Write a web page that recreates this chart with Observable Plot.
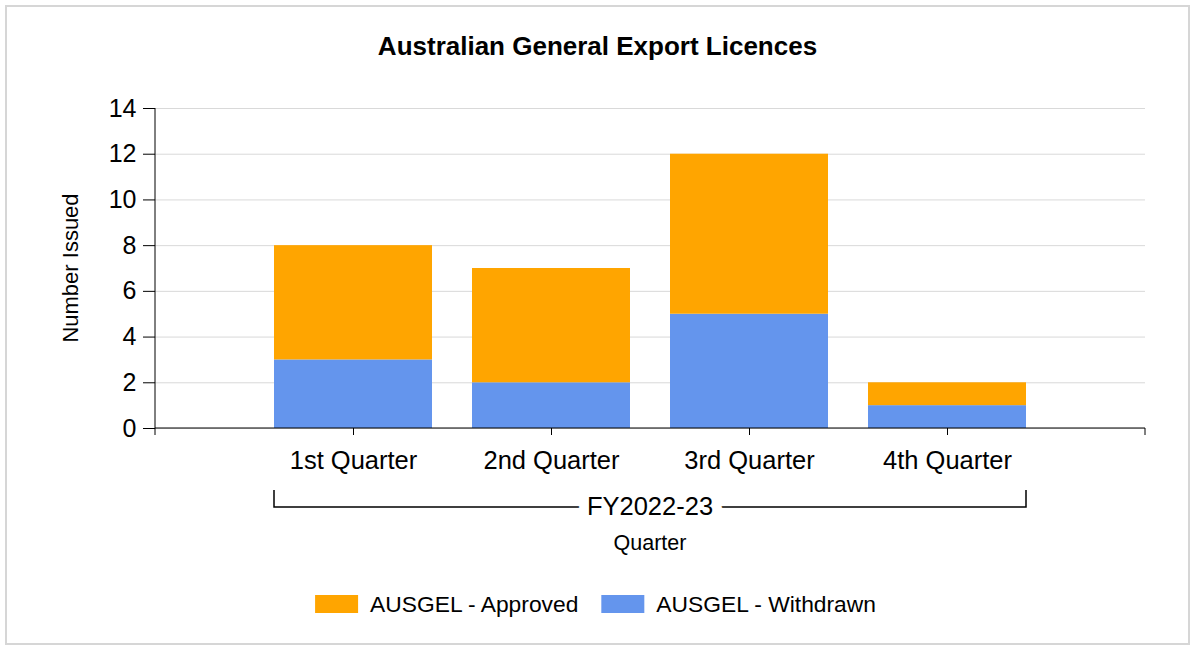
<!DOCTYPE html>
<html>
<head>
<meta charset="utf-8">
<script src="https://cdn.jsdelivr.net/npm/d3@7"></script>
<script src="https://cdn.jsdelivr.net/npm/@observablehq/plot@0.6"></script>
<style>
  html, body { margin: 0; padding: 0; background: #fff; }
  #wrap { position: relative; width: 1195px; height: 648px; overflow: hidden; }
  #border { position: absolute; left: 5px; top: 5px; width: 1185px; height: 640px; box-sizing: border-box; border: 2px solid #d6d6d6; pointer-events: none; }
  #chart { position: absolute; left: 0; top: 0; }
</style>
</head>
<body>
<div id="wrap"><div id="chart"></div><div id="border"></div></div>
<script>
const chartTitle = "Australian General Export Licences";
const quarters = ["1st Quarter", "2nd Quarter", "3rd Quarter", "4th Quarter"];
const seriesNames = ["AUSGEL - Approved", "AUSGEL - Withdrawn"];
const approved = [5, 5, 7, 1];
const withdrawn = [3, 2, 5, 1];
const yTicks = [0, 2, 4, 6, 8, 10, 12, 14];
const groupLabel = "FY2022-23";
const xLabel = "Quarter";
const yLabel = "Number Issued";

const data = quarters.flatMap((q, i) => [
  {quarter: q, series: seriesNames[1], value: withdrawn[i]},
  {quarter: q, series: seriesNames[0], value: approved[i]}
]);

const FONT = "'Liberation Sans', Arial, sans-serif";

const plot = Plot.plot({
  width: 1195,
  height: 648,
  marginLeft: 155,
  marginRight: 50,
  marginTop: 108,
  marginBottom: 220,
  style: {fontFamily: FONT, color: "#000", background: "transparent", overflow: "visible"},
  x: {type: "band", domain: quarters, paddingInner: 0.2, paddingOuter: 0.6, align: 0.5},
  y: {domain: [0, 14]},
  color: {domain: seriesNames, range: ["#FFA500", "#6495ED"]},
  marks: [
    Plot.gridY(yTicks, {stroke: "#d9d9d9", strokeOpacity: 1}),
    Plot.barY(data, {x: "quarter", y: "value", fill: "series"}),
    Plot.axisY(yTicks, {tickSize: 12, tickPadding: 7, fontSize: 25, label: null}),
    Plot.axisX({tickSize: 7, tickPadding: 15, fontSize: 25.5, label: null})
  ]
});

document.getElementById("chart").appendChild(plot);

const svg = d3.select(plot);
const xs = plot.scale("x");
const ys = plot.scale("y");
const cs = plot.scale("color");
const y0 = ys.apply(0);
const yTop = ys.apply(14);
const [xL, xR] = xs.range;

const g = svg.append("g").attr("stroke", "#000").attr("fill", "none");
// axis lines
g.append("line").attr("x1", xL).attr("x2", xL).attr("y1", yTop).attr("y2", y0 + 7);
g.append("line").attr("x1", xL).attr("x2", xR).attr("y1", y0).attr("y2", y0);
g.append("line").attr("x1", xR).attr("x2", xR).attr("y1", y0).attr("y2", y0 + 7);

// group bracket
const bx1 = xs.apply(quarters[0]);
const bx2 = xs.apply(quarters[quarters.length - 1]) + xs.bandwidth;
const by = y0 + 79;
g.append("path").attr("d", `M${bx1},${by - 17}V${by}H${bx2}V${by - 17}`).attr("stroke-width", 1.5);

const t = svg.append("g").attr("fill", "#000").attr("font-family", FONT);
t.append("text")
  .attr("x", (bx1 + bx2) / 2).attr("y", by + 8)
  .attr("text-anchor", "middle").attr("font-size", 25.5)
  .attr("stroke", "#fff").attr("stroke-width", 20).attr("paint-order", "stroke")
  .attr("stroke-linejoin", "miter")
  .text(groupLabel);
t.append("text")
  .attr("x", (bx1 + bx2) / 2).attr("y", y0 + 122)
  .attr("text-anchor", "middle").attr("font-size", 21.5)
  .text(xLabel);
t.append("text")
  .attr("transform", `translate(78,${(yTop + y0) / 2}) rotate(-90)`)
  .attr("text-anchor", "middle").attr("font-size", 22)
  .text(yLabel);
t.append("text")
  .attr("x", 1195 / 2).attr("y", 55)
  .attr("text-anchor", "middle").attr("font-size", 26).attr("font-weight", "bold")
  .text(chartTitle);

// legend
const leg = svg.append("g").attr("font-family", FONT).attr("font-size", 22.8).attr("text-anchor", "start");
const items = [];
seriesNames.forEach((s) => {
  const item = leg.append("g");
  item.append("rect").attr("x", 0).attr("y", -17).attr("width", 43).attr("height", 18).attr("fill", cs.apply(s));
  const tx = item.append("text").attr("x", 55).attr("y", 0).attr("fill", "#000").attr("text-anchor", "start").text(s);
  const w = 55 + tx.node().getComputedTextLength();
  items.push({item, w});
});
const gap = 23;
const total = d3.sum(items, d => d.w) + gap * (items.length - 1);
let lx = 1195 / 2 - total / 2 - 2;
items.forEach(({item, w}) => { item.attr("transform", `translate(${lx},612)`); lx += w + gap; });
</script>
</body>
</html>
